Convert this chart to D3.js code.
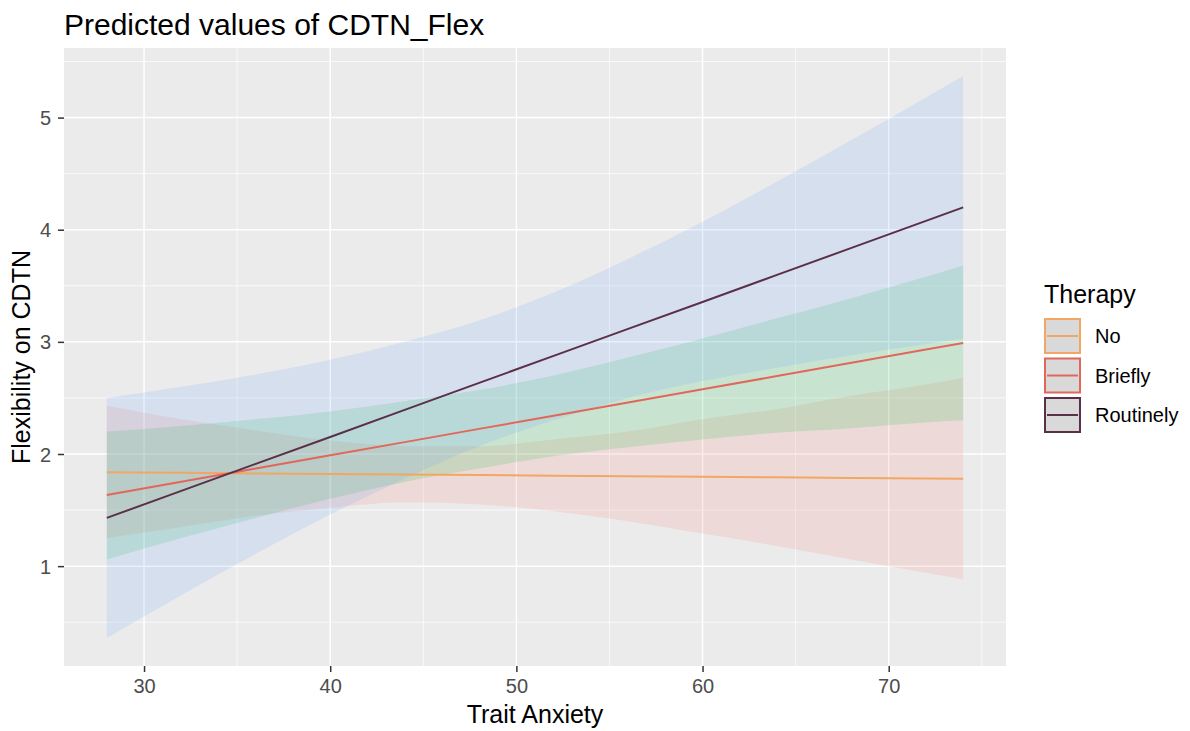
<!DOCTYPE html>
<html>
<head>
<meta charset="utf-8">
<script src="https://cdn.jsdelivr.net/npm/d3@7"></script>
<style>
  body { margin: 0; background: #fff; }
  text { font-family: "Liberation Sans", Arial, Helvetica, sans-serif; }
</style>
</head>
<body>
<svg id="chart" width="1190" height="731"></svg>
<script>
// values
const anxiety = [28, 32, 36, 40, 44, 48, 52, 56, 60, 64, 68, 72, 74];
const groups = ['No', 'Briefly', 'Routinely'];

const predNo = [1.837, 1.832, 1.827, 1.822, 1.817, 1.812, 1.807, 1.802, 1.797, 1.792, 1.787, 1.782, 1.780];
const lowNo  = [1.25, 1.35, 1.45, 1.52, 1.57, 1.55, 1.49, 1.40, 1.29, 1.18, 1.06, 0.94, 0.88];
const highNo = [2.43, 2.31, 2.21, 2.12, 2.07, 2.07, 2.13, 2.20, 2.31, 2.40, 2.52, 2.62, 2.68];

const predBriefly = [1.634, 1.752, 1.870, 1.988, 2.106, 2.224, 2.342, 2.459, 2.577, 2.695, 2.813, 2.931, 2.990];
const lowBriefly  = [1.06, 1.25, 1.43, 1.60, 1.75, 1.87, 1.98, 2.06, 2.13, 2.19, 2.23, 2.28, 2.30];
const highBriefly = [2.20, 2.25, 2.31, 2.38, 2.47, 2.57, 2.70, 2.86, 3.03, 3.21, 3.39, 3.58, 3.68];

const predRoutinely = [1.430, 1.671, 1.912, 2.152, 2.393, 2.634, 2.875, 3.116, 3.356, 3.597, 3.838, 4.079, 4.199];
const lowRoutinely  = [0.36, 0.74, 1.11, 1.46, 1.78, 2.07, 2.30, 2.50, 2.65, 2.77, 2.88, 2.98, 3.03];
const highRoutinely = [2.50, 2.60, 2.71, 2.84, 3.00, 3.19, 3.44, 3.74, 4.07, 4.43, 4.80, 5.18, 5.37];

const xTicks = [30, 40, 50, 60, 70];
const yTicks = [1, 2, 3, 4, 5];

const lineColor = ['#F2A664', '#E2675B', '#5B2F47'];
const ribbonColor = ['#F8766D', '#00BA38', '#619CFF'];

const series = [
  { pred: predNo, low: lowNo, high: highNo },
  { pred: predBriefly, low: lowBriefly, high: highBriefly },
  { pred: predRoutinely, low: lowRoutinely, high: highRoutinely }
];

const svg = d3.select('#chart');
const panel = { left: 64, right: 1006, top: 48, bottom: 666 };

// ggplot style 5% expansion
const xr = d3.extent(anxiety);
const xPad = (xr[1] - xr[0]) * 0.05;
const allY = [].concat(lowNo, lowBriefly, lowRoutinely, highNo, highBriefly, highRoutinely);
const yr = d3.extent(allY);
const yPad = (yr[1] - yr[0]) * 0.05;

const x = d3.scaleLinear().domain([xr[0] - xPad, xr[1] + xPad]).range([panel.left, panel.right]);
const y = d3.scaleLinear().domain([yr[0] - yPad, yr[1] + yPad]).range([panel.bottom, panel.top]);

// panel background
svg.append('rect')
  .attr('x', panel.left).attr('y', panel.top)
  .attr('width', panel.right - panel.left).attr('height', panel.bottom - panel.top)
  .attr('fill', '#EBEBEB');

// grid lines, minor first
const xMinor = [25, 35, 45, 55, 65, 75].filter(v => v > x.domain()[0] && v < x.domain()[1]);
const yMinor = [0.5, 1.5, 2.5, 3.5, 4.5, 5.5].filter(v => v > y.domain()[0] && v < y.domain()[1]);
const grid = svg.append('g');
grid.selectAll('.xmin').data(xMinor).join('line')
  .attr('x1', d => x(d)).attr('x2', d => x(d))
  .attr('y1', panel.top).attr('y2', panel.bottom)
  .attr('stroke', '#fff').attr('stroke-width', 0.7);
grid.selectAll('.ymin').data(yMinor).join('line')
  .attr('y1', d => y(d)).attr('y2', d => y(d))
  .attr('x1', panel.left).attr('x2', panel.right)
  .attr('stroke', '#fff').attr('stroke-width', 0.7);
grid.selectAll('.xmaj').data(xTicks).join('line')
  .attr('x1', d => x(d)).attr('x2', d => x(d))
  .attr('y1', panel.top).attr('y2', panel.bottom)
  .attr('stroke', '#fff').attr('stroke-width', 1.5);
grid.selectAll('.ymaj').data(yTicks).join('line')
  .attr('y1', d => y(d)).attr('y2', d => y(d))
  .attr('x1', panel.left).attr('x2', panel.right)
  .attr('stroke', '#fff').attr('stroke-width', 1.5);

// ribbons
const area = d3.area()
  .x((d, i) => x(anxiety[i]))
  .y0(d => y(d[0]))
  .y1(d => y(d[1]))
  .curve(d3.curveMonotoneX);

series.forEach((s, k) => {
  const pts = s.low.map((v, i) => [v, s.high[i]]);
  svg.append('path')
    .attr('d', area(pts))
    .attr('fill', ribbonColor[k])
    .attr('fill-opacity', 0.15);
});

// prediction lines
const line = d3.line()
  .x((d, i) => x(anxiety[i]))
  .y(d => y(d));

series.forEach((s, k) => {
  svg.append('path')
    .attr('d', line(s.pred))
    .attr('fill', 'none')
    .attr('stroke', lineColor[k])
    .attr('stroke-width', 2);
});

// axes
const xAxis = svg.append('g')
  .attr('transform', `translate(0,${panel.bottom})`)
  .call(d3.axisBottom(x).tickValues(xTicks).tickSize(6).tickPadding(7));
const yAxis = svg.append('g')
  .attr('transform', `translate(${panel.left},0)`)
  .call(d3.axisLeft(y).tickValues(yTicks).tickFormat(d3.format('d')).tickSize(6).tickPadding(7));
[xAxis, yAxis].forEach(g => {
  g.select('.domain').remove();
  g.selectAll('.tick line').attr('stroke', '#333').attr('stroke-width', 1.5);
  g.selectAll('.tick text').attr('fill', '#4D4D4D').style('font-size', '20px');
});
yAxis.selectAll('.tick text').attr('dy', '0.35em');

// titles
svg.append('text')
  .attr('x', panel.left).attr('y', 35)
  .style('font-size', '30px').attr('fill', '#000')
  .text('Predicted values of CDTN_Flex');

svg.append('text')
  .attr('x', (panel.left + panel.right) / 2).attr('y', 723)
  .attr('text-anchor', 'middle')
  .style('font-size', '25px').attr('fill', '#000')
  .text('Trait Anxiety');

svg.append('text')
  .attr('transform', `translate(30,${(panel.top + panel.bottom) / 2}) rotate(-90)`)
  .attr('text-anchor', 'middle')
  .style('font-size', '25px').attr('fill', '#000')
  .text('Flexibility on CDTN');

// legend
const legend = svg.append('g').attr('transform', 'translate(1044,0)');
legend.append('text')
  .attr('x', 0).attr('y', 303)
  .style('font-size', '25px').attr('fill', '#000')
  .text('Therapy');

const keys = legend.selectAll('.key').data(groups).join('g')
  .attr('transform', (d, i) => `translate(0,${318 + i * 39.5})`);
keys.append('rect')
  .attr('x', 1).attr('y', 1)
  .attr('width', 35).attr('height', 34)
  .attr('fill', '#D9D9D9')
  .attr('stroke', (d, i) => lineColor[i])
  .attr('stroke-width', 2);
keys.append('line')
  .attr('x1', 3).attr('x2', 34)
  .attr('y1', 18).attr('y2', 18)
  .attr('stroke', (d, i) => lineColor[i])
  .attr('stroke-width', 2);
keys.append('text')
  .attr('x', 51).attr('y', 18).attr('dy', '0.35em')
  .style('font-size', '20px').attr('fill', '#000')
  .text(d => d);
</script>
</body>
</html>
